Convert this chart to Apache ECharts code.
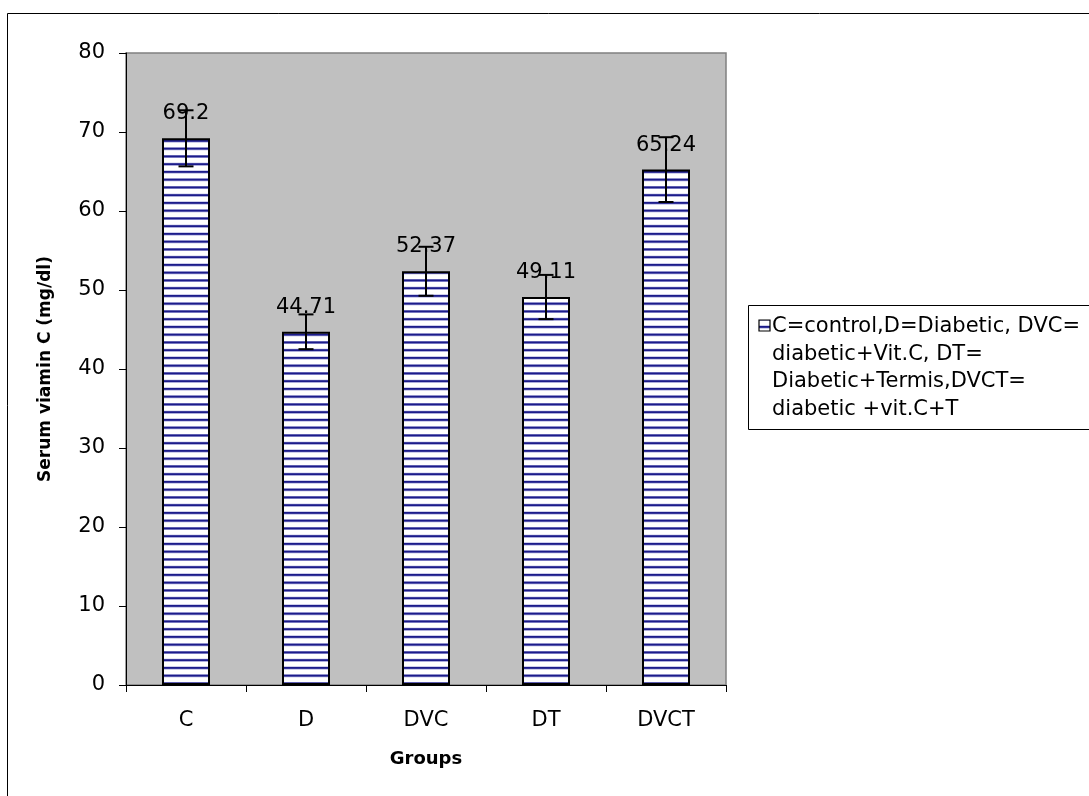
<!DOCTYPE html>
<html>
<head>
<meta charset="utf-8">
<script src="https://cdn.jsdelivr.net/npm/echarts@6/dist/echarts.min.js"></script>
<style>html,body{margin:0;padding:0;background:#fff;}#c{width:1089px;height:796px;}</style>
</head>
<body>
<div id="c"></div>
<script>
const categories = ['C', 'D', 'DVC', 'DT', 'DVCT'];
const values = [69.2, 44.71, 52.37, 49.11, 65.24];
const errors = [3.55, 2.2, 3.1, 2.8, 4.1];
const yTicks = [0, 10, 20, 30, 40, 50, 60, 70, 80];
const legendLines = ['C=control,D=Diabetic, DVC=', 'diabetic+Vit.C, DT=', 'Diabetic+Termis,DVCT=', 'diabetic +vit.C+T'];
const seriesName = legendLines.join(' ');

function makePattern() {
  const cv = document.createElement('canvas');
  cv.width = 4; cv.height = 31;
  const ctx = cv.getContext('2d');
  ctx.fillStyle = '#ffffff';
  ctx.fillRect(0, 0, 4, 31);
  for (let i = 0; i < 4; i++) {
    const y = i * 7.75;
    ctx.fillStyle = '#a0a0d8';
    ctx.fillRect(0, y, 4, 3);
    ctx.fillStyle = '#1c1c8a';
    ctx.fillRect(0, y + 0.5, 4, 1.8);
  }
  return cv;
}
const pattern = makePattern();

const chart = echarts.init(document.getElementById('c'), null, {renderer: 'canvas'});
const FONT = '"DejaVu Sans", Verdana, sans-serif';
chart.setOption({
  animation: false,
  backgroundColor: '#ffffff',
  grid: {left: 126, right: 363, top: 53, bottom: 111, show: true, backgroundColor: '#c0c0c0', borderColor: '#808080', borderWidth: 1.5},
  xAxis: {
    type: 'category',
    data: categories,
    name: 'Groups',
    nameLocation: 'middle',
    nameGap: 65,
    nameTextStyle: {fontFamily: FONT, fontSize: 18, fontWeight: 'bold', color: '#000'},
    axisLine: {lineStyle: {color: '#000', width: 1}},
    axisTick: {show: true, length: 7, lineStyle: {color: '#000'}},
    axisLabel: {fontFamily: FONT, fontSize: 21, color: '#000', margin: 25},
    splitLine: {show: false}
  },
  yAxis: {
    type: 'value',
    min: 0, max: 80, interval: 10,
    name: 'Serum viamin C (mg/dl)',
    nameLocation: 'middle',
    nameGap: 72,
    nameRotate: 90,
    nameTextStyle: {fontFamily: FONT, fontSize: 17, fontWeight: 'bold', color: '#000'},
    axisLine: {show: true, lineStyle: {color: '#000', width: 1}},
    axisTick: {show: true, length: 7, lineStyle: {color: '#000'}},
    axisLabel: {fontFamily: FONT, fontSize: 21, color: '#000', margin: 21,
      formatter: v => yTicks.includes(v) ? String(v) : ''},
    splitLine: {show: false}
  },
  series: [
    {
      name: seriesName,
      type: 'bar',
      data: values,
      barWidth: 48,
      itemStyle: {color: {image: pattern, repeat: 'repeat'}, borderColor: '#000', borderWidth: 2},
      label: {show: true, position: 'top', distance: 14, fontFamily: FONT, fontSize: 21, color: '#000'},
      z: 2
    },
    {
      type: 'custom',
      data: values.map((v, i) => [i, v, errors[i]]),
      z: 5,
      renderItem: function (params, api) {
        const i = api.value(0), v = api.value(1), e = api.value(2);
        const top = api.coord([i, v + e]);
        const bot = api.coord([i, v - e]);
        const hw = 7.5;
        const st = {stroke: '#000', lineWidth: 2};
        return {
          type: 'group',
          children: [
            {type: 'line', shape: {x1: top[0], y1: top[1], x2: bot[0], y2: bot[1]}, style: st},
            {type: 'line', shape: {x1: top[0] - hw, y1: top[1], x2: top[0] + hw, y2: top[1]}, style: st},
            {type: 'line', shape: {x1: bot[0] - hw, y1: bot[1], x2: bot[0] + hw, y2: bot[1]}, style: st}
          ]
        };
      }
    }
  ],
  graphic: [
    {type: 'rect', shape: {x: 7.5, y: 13.5, width: 1200, height: 1000}, style: {fill: 'none', stroke: '#000', lineWidth: 1}, z: 0, silent: true},
    {type: 'rect', shape: {x: 748.5, y: 305.5, width: 400, height: 124}, style: {fill: '#fff', stroke: '#000', lineWidth: 1}, z: 10},
    {type: 'rect', shape: {x: 759, y: 320, width: 11, height: 11}, style: {fill: {image: pattern, repeat: 'repeat'}, stroke: '#000', lineWidth: 1.2}, z: 11},
    {type: 'text', x: 772, y: 313, style: {text: legendLines.join('\n'), fontFamily: FONT, fontSize: 21, lineHeight: 27.5, fill: '#000'}, z: 11}
  ]
});
</script>
</body>
</html>
